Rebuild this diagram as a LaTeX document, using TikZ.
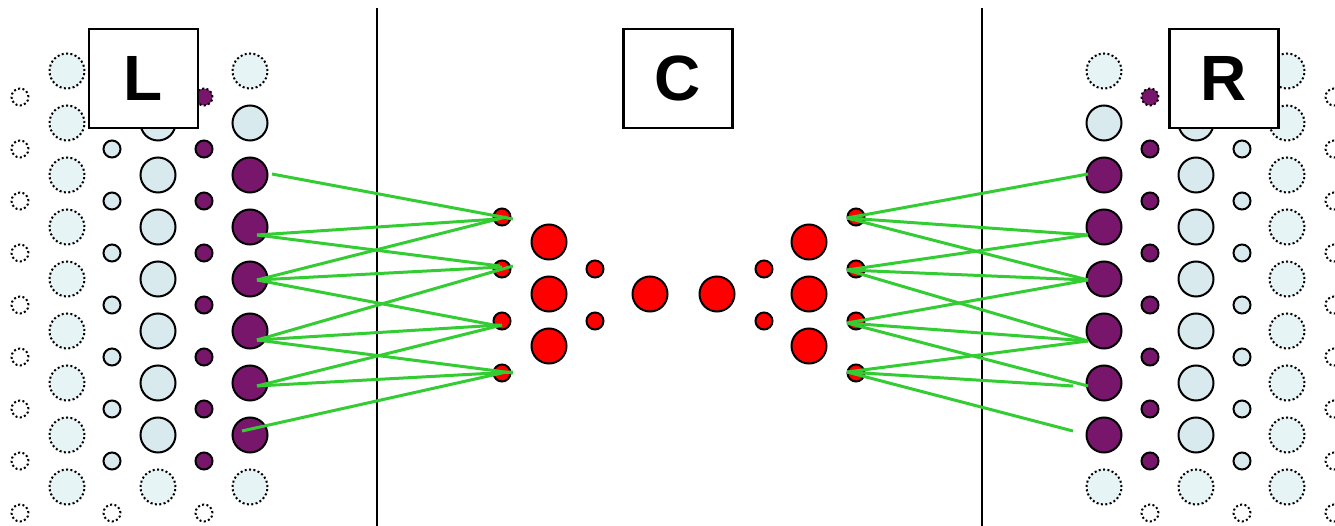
\documentclass[tikz,border=0pt]{standalone}
\usepackage{fontspec}
\setmainfont{Liberation Sans}
\definecolor{lblue}{RGB}{216,234,238}
\definecolor{lbluedot}{RGB}{230,244,245}
\definecolor{plum}{RGB}{119,22,107}
\definecolor{lgreen}{RGB}{51,204,51}
\begin{document}
\begin{tikzpicture}[x=1pt,y=-1pt,
  big/.style={circle,draw,line width=2pt,minimum size=35pt,inner sep=0pt},
  small/.style={circle,draw,line width=2pt,minimum size=17pt,inner sep=0pt},
  dots/.style={dash pattern=on 2pt off 2.4pt},
  lsolid/.style={fill=lblue},
  ldot/.style={fill=lbluedot,dots},
  wdot/.style={fill=white,dots},
  pur/.style={fill=plum},
  pdot/.style={fill=plum,dots},
  redn/.style={fill=red},
  link/.style={draw=lgreen,line width=3pt},
  divider/.style={draw=black,line width=2pt},
  letterbox/.style={draw,line width=2.4pt,fill=white,minimum width=109pt,minimum height=99pt,inner sep=0pt,font=\fontsize{64}{64}\selectfont\bfseries}
]
\useasboundingbox (0,0) rectangle (1335,526);
% lattices, left (x) and right (1354-x)
\foreach \side/\sx/\sg in {l/0/1, r/1354/-1}{
  \foreach \k in {0,...,8}{
    \node[small,wdot] (\side A\k) at ({\sx+\sg*20},{97+52*\k}) {};
    \node[big,ldot] (\side B\k) at ({\sx+\sg*67},{71+52*\k}) {};
  }
  \foreach \k in {1,...,7}{
    \node[small,lsolid] (\side C\k) at ({\sx+\sg*112},{97+52*\k}) {};
    \node[big,lsolid] (\side D\k) at ({\sx+\sg*158},{71+52*\k}) {};
    \node[small,pur] (\side E\k) at ({\sx+\sg*204},{97+52*\k}) {};
  }
  \node[small,wdot] (\side C8) at ({\sx+\sg*112},513) {};
  \node[big,ldot] (\side D8) at ({\sx+\sg*158},487) {};
  \node[small,pdot] (\side E0) at ({\sx+\sg*204},97) {};
  \node[small,wdot] (\side E8) at ({\sx+\sg*204},513) {};
  \node[big,ldot] (\side F0) at ({\sx+\sg*250},71) {};
  \node[big,lsolid] (\side F1) at ({\sx+\sg*250},123) {};
  \foreach \k in {2,...,7}{
    \node[big,pur] (\side F\k) at ({\sx+\sg*250},{71+52*\k}) {};
  }
  \node[big,ldot] (\side F8) at ({\sx+\sg*250},487) {};
}
% centre red nodes
\foreach \k in {1,...,4}{
  \node[small,redn] (ra\k) at (502,{165+52*\k}) {};
  \node[small,redn] (sa\k) at (856,{165+52*\k}) {};
}
\foreach \k in {1,...,3}{
  \node[big,redn] (rb\k) at (549,{190+52*\k}) {};
  \node[big,redn] (sb\k) at (809,{190+52*\k}) {};
}
\foreach \k in {1,2}{
  \node[small,redn] (rc\k) at (595,{217+52*\k}) {};
  \node[small,redn] (sc\k) at (764,{217+52*\k}) {};
}
\node[big,redn] (rd) at (650,294) {};
\node[big,redn] (sd) at (717,294) {};
% dividers
\coordinate (v1t) at (377,8); \coordinate (v1b) at (377,526);
\coordinate (v2t) at (982,8); \coordinate (v2b) at (982,526);
\draw[divider] (v1t) -- (v1b);
\draw[divider] (v2t) -- (v2b);
% left links
\draw[link] ([shift={(22,-1)}]lF2.center) -- ([shift={(11,2)}]ra1.center);
\draw[link] ([shift={(7,8)}]lF3.center) -- ([shift={(-4,2)}]ra1.center);
\draw[link] ([shift={(7,8)}]lF3.center) -- ([shift={(-2,-3)}]ra2.center);
\draw[link] ([shift={(7,1)}]lF4.center) -- ([shift={(4,0)}]ra1.center);
\draw[link] ([shift={(7,1)}]lF4.center) -- ([shift={(0,-2)}]ra2.center);
\draw[link] ([shift={(7,1)}]lF4.center) -- ([shift={(-3,5)}]ra3.center);
\draw[link] ([shift={(7,9)}]lF5.center) -- ([shift={(11,-3)}]ra2.center);
\draw[link] ([shift={(7,9)}]lF5.center) -- ([shift={(-2,4)}]ra3.center);
\draw[link] ([shift={(7,9)}]lF5.center) -- ([shift={(11,0)}]ra4.center);
\draw[link] ([shift={(7,3)}]lF6.center) -- ([shift={(0,4)}]ra3.center);
\draw[link] ([shift={(7,3)}]lF6.center) -- ([shift={(11,-1)}]ra4.center);
\draw[link] ([shift={(-8,-4)}]lF7.center) -- ([shift={(0,0)}]ra4.center);
% right links
\draw[link] ([shift={(-9,1)}]sa1.center) -- ([shift={(-16,-1)}]rF2.center);
\draw[link] ([shift={(-9,1)}]sa1.center) -- ([shift={(-16,8)}]rF3.center);
\draw[link] ([shift={(-9,1)}]sa1.center) -- ([shift={(-16,1)}]rF4.center);
\draw[link] ([shift={(-9,1)}]sa2.center) -- ([shift={(-16,8)}]rF3.center);
\draw[link] ([shift={(-9,1)}]sa2.center) -- ([shift={(-16,1)}]rF4.center);
\draw[link] ([shift={(-9,1)}]sa2.center) -- ([shift={(-16,10)}]rF5.center);
\draw[link] ([shift={(-9,2)}]sa3.center) -- ([shift={(-16,1)}]rF4.center);
\draw[link] ([shift={(-9,2)}]sa3.center) -- ([shift={(-16,10)}]rF5.center);
\draw[link] ([shift={(-9,2)}]sa3.center) -- ([shift={(-16,3)}]rF6.center);
\draw[link] ([shift={(-9,-1)}]sa4.center) -- ([shift={(-16,10)}]rF5.center);
\draw[link] ([shift={(-9,-1)}]sa4.center) -- ([shift={(-31,3)}]rF6.center);
\draw[link] ([shift={(-9,-1)}]sa4.center) -- ([shift={(-31,-4)}]rF7.center);
% letter boxes
\node[letterbox] (boxL) at (143.5,78.5) {L};
\node[letterbox] (boxC) at (678,78.5) {C};
\node[letterbox] (boxR) at (1224,78.5) {R};
\end{tikzpicture}
\end{document}
